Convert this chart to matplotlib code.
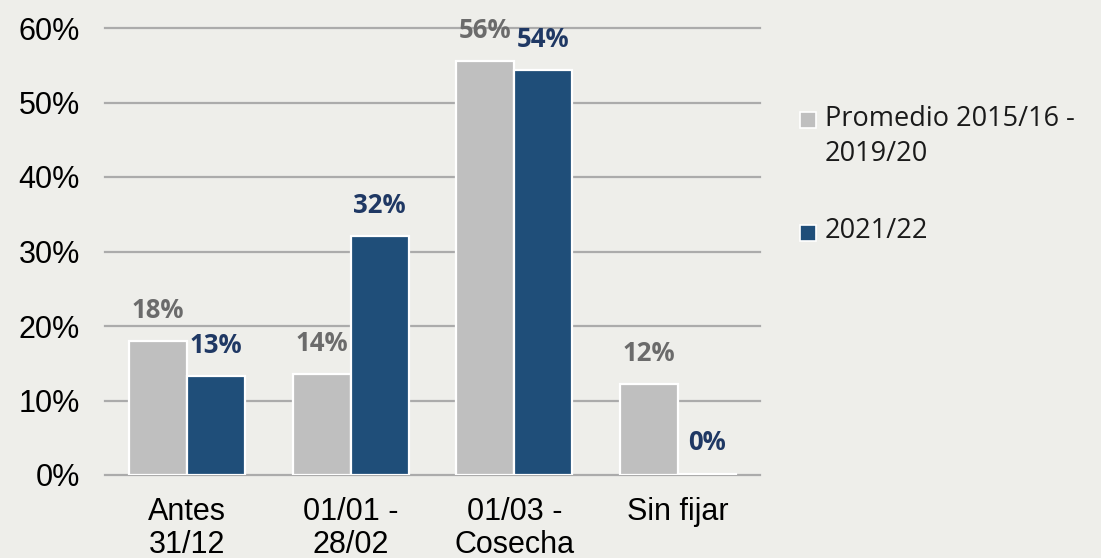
import matplotlib
matplotlib.use("Agg")
import matplotlib.pyplot as plt
from matplotlib.patches import Rectangle
import numpy as np

categories = ["Antes\n31/12", "01/01 -\n28/02", "01/03 -\nCosecha", "Sin fijar"]
promedio = [18.0, 13.6, 55.6, 12.2]
campaña = [13.3, 32.1, 54.4, 0.2]
promedio_labels = ["18%", "14%", "56%", "12%"]
campaña_labels = ["13%", "32%", "54%", "0%"]
series_names = ["Promedio 2015/16 -\n2019/20", "2021/22"]
yticks = [0, 10, 20, 30, 40, 50, 60]

bg = "#EEEEEA"
gray = "#BFBFBF"
blue = "#1F4E79"
gray_txt = "#6B6B6B"
blue_txt = "#1F3864"

fig = plt.figure(figsize=(11.01, 5.58), dpi=100, facecolor=bg)
ax = fig.add_axes([105/1101, 1-475/558, 655/1101, 447/558])
ax.set_facecolor(bg)

x = np.arange(len(categories))
w = 0.354
b1 = ax.bar(x - w/2, promedio, w, color=gray, edgecolor="white", linewidth=1.6, zorder=3)
b2 = ax.bar(x + w/2, campaña, w, color=blue, edgecolor="white", linewidth=1.6, zorder=3)

for rect, lab in zip(b1, promedio_labels):
    ax.annotate(lab, (rect.get_x() + rect.get_width()/2, rect.get_height()),
                xytext=(0, 22), textcoords="offset points", ha="center", va="center",
                fontsize=18.5, fontweight="bold", color=gray_txt, family="Open Sans", zorder=5)
for rect, lab in zip(b2, campaña_labels):
    ax.annotate(lab, (rect.get_x() + rect.get_width()/2, rect.get_height()),
                xytext=(0, 22), textcoords="offset points", ha="center", va="center",
                fontsize=18.5, fontweight="bold", color=blue_txt, family="Open Sans", zorder=5)

ax.set_xlim(-0.5, 3.5)
ax.set_ylim(0, 60)
ax.set_yticks(yticks)
ax.set_yticklabels([f"{v}%" for v in yticks], fontsize=22, family="Liberation Sans")
ax.set_xticks(x)
ax.set_xticklabels(categories, fontsize=22, family="Liberation Sans", linespacing=1.12)
ax.tick_params(axis="both", length=0)
ax.tick_params(axis="y", pad=18)
ax.tick_params(axis="x", pad=16)
for s in ax.spines.values():
    s.set_visible(False)
for v in yticks:
    ax.axhline(v, color="#ABABAB", linewidth=1.6, zorder=1, clip_on=False)

# legend
leg_x = 800/1101
fig.patches.append(Rectangle((leg_x, 1-128/558), 16/1101, 16/558, transform=fig.transFigure,
                             facecolor=gray, edgecolor="white", linewidth=1.2, figure=fig))
fig.patches.append(Rectangle((leg_x, 1-241/558), 16/1101, 16/558, transform=fig.transFigure,
                             facecolor=blue, edgecolor="white", linewidth=1.2, figure=fig))
fig.text(825/1101, 1-105/558, series_names[0], fontsize=19.5, family="Open Sans",
         va="top", ha="left", color="#1A1A1A", linespacing=1.35)
fig.text(825/1101, 1-217/558, series_names[1], fontsize=19.5, family="Open Sans",
         va="top", ha="left", color="#1A1A1A")

fig.savefig("out.png", dpi=100, facecolor=bg)
